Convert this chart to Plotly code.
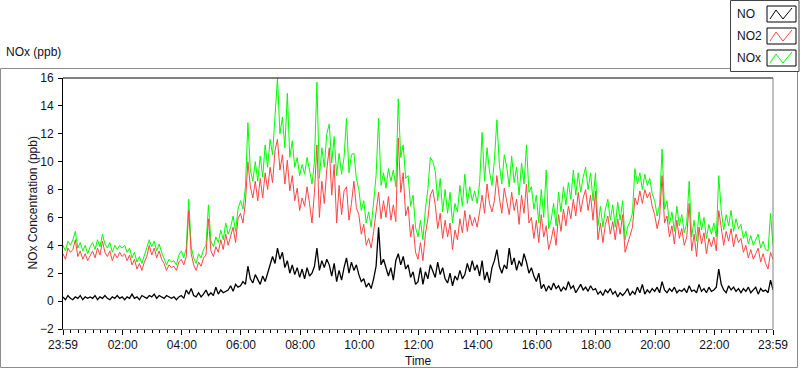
import pandas as pd
import plotly.graph_objects as go

# ---------------- data (5-minute samples, 23:59 -> 23:59) ----------------
start_time = "2024-01-01 23:59"
n_points = 289
sample_minutes = 5

no2_ppb = [
    3.4, 3.0, 3.8, 3.5, 3.7, 4.4, 3.2, 3.6, 3.0, 3.4, 2.9, 3.3,
    3.6, 3.1, 3.8, 3.3, 4.3, 3.5, 3.2, 3.6, 2.9, 3.4, 3.1, 3.5,
    3.2, 3.4, 2.9, 3.3, 2.6, 3.0, 2.3, 2.7, 2.2, 2.8, 3.2, 4.0,
    3.3, 3.8, 3.1, 3.6, 3.0, 2.7, 2.2, 2.6, 2.4, 2.5, 2.2, 2.8,
    3.0, 2.6, 3.2, 6.5, 3.4, 2.6, 2.2, 2.8, 2.5, 3.1, 3.3, 5.9,
    3.6, 3.2, 3.9, 3.5, 4.4, 3.7, 4.8, 4.0, 4.6, 5.3, 4.2, 5.9,
    6.3, 5.6, 7.1, 10.0, 8.2, 7.4, 8.6, 7.2, 8.8, 7.4, 9.2, 8.0,
    9.6, 8.5, 10.8, 11.6, 9.4, 10.5, 8.4, 10.1, 7.9, 9.0, 7.2, 8.1,
    6.5, 7.4, 6.8, 8.2, 7.0, 5.6, 7.8, 11.2, 6.0, 8.6, 7.0, 9.4,
    11.0, 7.6, 9.8, 5.6, 8.3, 6.2, 7.9, 8.2, 5.8, 7.0, 8.6, 6.7,
    6.2, 4.8, 5.5, 4.0, 4.5, 3.8, 5.0, 6.4, 7.8, 5.9, 7.2, 6.0,
    7.5, 5.8, 6.9, 5.7, 11.7, 7.8, 9.2, 6.1, 6.8, 4.6, 5.5, 3.5,
    3.0, 4.2, 2.9, 4.8, 5.9, 7.6, 8.0, 6.9, 5.2, 6.3, 4.5, 5.8,
    4.6, 5.6, 3.7, 5.1, 4.4, 5.9, 4.9, 6.5, 5.0, 6.2, 5.4, 6.0,
    5.3, 6.4, 7.6, 6.3, 8.4, 7.0, 6.4, 7.2, 9.0, 7.4, 6.3, 8.1,
    7.2, 6.2, 7.8, 6.5, 7.3, 5.5, 7.6, 6.3, 8.4, 5.6, 6.0, 4.5,
    5.8, 4.2, 6.2, 4.6, 5.4, 3.7, 4.4, 5.3, 4.0, 6.2, 5.0, 6.6,
    5.4, 6.8, 5.9, 7.3, 6.1, 7.8, 6.4, 7.4, 8.0, 6.5, 7.6, 5.8,
    7.9, 4.4, 5.6, 4.2, 5.5, 6.1, 4.8, 5.7, 4.4, 5.9, 4.8, 6.2,
    3.5, 4.2, 4.7, 5.3, 7.4, 6.9, 7.9, 7.0, 8.0, 7.4, 7.8, 6.8,
    6.2, 5.2, 6.0, 9.0, 5.6, 6.1, 4.6, 5.4, 4.1, 5.8, 4.5, 5.2,
    4.0, 4.6, 7.0, 3.6, 4.8, 3.2, 5.3, 4.1, 4.9, 3.4, 4.5, 3.9,
    4.6, 3.6, 6.5, 5.3, 4.0, 5.0, 4.3, 5.2, 3.9, 4.8, 4.2, 4.5,
    3.5, 4.0, 3.1, 3.7, 3.0, 3.4, 3.8, 2.8, 3.4, 2.7, 2.3, 3.5,
    3.0,
]

nox_ppb = [
    4.0, 3.6, 4.3, 4.0, 4.4, 5.0, 3.8, 4.2, 3.6, 4.0, 3.4, 3.9,
    4.2, 3.7, 4.4, 3.9, 4.8, 4.1, 3.8, 4.2, 3.5, 4.0, 3.7, 4.0,
    3.8, 4.0, 3.5, 3.8, 3.1, 3.5, 2.8, 3.2, 2.7, 3.3, 3.8, 4.4,
    3.9, 4.3, 3.6, 4.1, 3.5, 3.1, 2.6, 3.0, 2.8, 2.9, 2.6, 3.3,
    3.6, 3.1, 3.8, 7.3, 3.9, 3.1, 2.7, 3.4, 3.1, 3.7, 4.0, 6.9,
    4.3, 3.9, 4.6, 4.2, 5.1, 4.4, 5.6, 4.8, 5.3, 6.1, 5.0, 6.6,
    7.2, 6.6, 8.2, 12.8, 9.4, 8.6, 10.0, 8.6, 10.4, 8.9, 11.2, 9.6,
    11.6, 10.5, 13.5, 16.0, 12.0, 13.2, 11.0, 14.9, 10.3, 11.5, 9.6, 10.3,
    9.0, 9.8, 9.1, 10.3, 9.4, 8.4, 10.0, 15.7, 8.8, 11.0, 9.6, 12.0,
    12.7, 9.9, 11.8, 9.0, 10.6, 9.1, 10.3, 13.1, 9.2, 10.5, 10.6, 8.8,
    8.0, 6.5, 7.2, 5.6, 6.4, 5.3, 7.1, 9.0, 13.1, 8.3, 9.2, 8.1,
    9.5, 8.6, 9.4, 8.2, 14.5, 10.3, 11.2, 8.8, 9.0, 6.8, 7.6, 5.3,
    4.6, 5.8, 4.4, 6.6, 8.0, 10.3, 10.0, 9.3, 7.2, 8.8, 6.4, 8.0,
    6.3, 7.8, 5.6, 7.0, 6.4, 8.3, 6.8, 9.1, 7.0, 8.2, 7.2, 7.9,
    7.0, 8.5, 12.1, 8.6, 11.0, 9.3, 8.3, 10.1, 13.0, 9.8, 8.4, 10.5,
    9.6, 8.2, 10.4, 8.5, 9.6, 7.6, 9.9, 8.4, 11.2, 7.8, 8.2, 6.6,
    7.6, 5.6, 8.0, 6.0, 9.4, 5.2, 5.8, 7.0, 5.4, 7.8, 6.4, 8.2,
    6.9, 8.5, 7.3, 9.4, 7.6, 9.2, 7.8, 8.9, 9.6, 8.0, 9.2, 7.2,
    9.2, 5.4, 6.8, 5.3, 6.6, 7.3, 5.8, 6.9, 5.3, 7.1, 5.8, 7.2,
    4.4, 5.3, 5.7, 6.3, 9.5, 8.4, 9.2, 8.0, 9.1, 8.3, 8.8, 7.7,
    7.2, 6.1, 6.9, 10.9, 6.6, 7.2, 5.5, 6.4, 5.0, 6.8, 5.4, 6.2,
    4.9, 5.6, 8.6, 4.6, 5.8, 4.3, 6.4, 5.1, 6.0, 4.5, 5.5, 4.8,
    5.6, 4.6, 9.0, 6.5, 5.1, 6.2, 5.4, 6.5, 5.0, 5.9, 5.2, 5.5,
    4.5, 5.0, 4.1, 4.7, 4.0, 4.4, 4.8, 3.8, 4.3, 3.7, 3.6, 6.3,
    4.0,
]

no_ppb = [
    0.3, 0.1, 0.4, 0.2, 0.1, 0.3, 0.2, 0.4, 0.1, 0.3, 0.2, 0.3,
    0.2, 0.4, 0.1, 0.3, 0.2, 0.4, 0.2, 0.1, 0.3, 0.2, 0.4, 0.2,
    0.3, 0.1, 0.3, 0.2, 0.5, 0.2, 0.3, 0.1, 0.4, 0.3, 0.2, 0.4,
    0.3, 0.5, 0.2, 0.4, 0.3, 0.2, 0.4, 0.3, 0.2, 0.3, 0.1, 0.3,
    0.4, 0.2, 0.8, 0.5, 0.9, 0.4, 0.3, 0.6, 0.3, 0.5, 0.8, 0.4,
    0.6, 0.4, 1.0, 0.5, 0.8, 0.6, 0.7, 0.8, 1.1, 0.7, 1.2, 1.0,
    1.1, 1.4, 1.2, 2.5, 1.6, 1.3, 1.9, 1.5, 1.2, 1.8, 1.4, 2.0,
    2.6, 3.2, 2.7, 3.8, 3.0, 3.5, 2.4, 2.9, 2.0, 2.6, 1.9, 2.4,
    1.7, 2.3, 1.6, 2.4, 1.8, 2.0, 2.5, 3.8, 2.2, 2.9, 2.4, 3.0,
    2.6, 1.8, 2.7, 1.4, 2.2, 1.5, 2.4, 3.1, 2.0, 2.8, 2.2, 2.6,
    1.9, 1.4, 1.6, 1.0, 1.3, 0.9, 1.6, 2.5, 5.3, 2.6, 3.0, 2.3,
    1.8, 2.4, 1.5, 2.9, 3.4, 2.6, 3.2, 2.3, 2.6, 1.7, 2.1, 1.2,
    1.4, 2.4, 1.2, 2.1, 1.6, 2.6, 2.2, 1.7, 2.8, 1.9, 2.4, 1.6,
    1.3, 2.0, 1.1, 1.8, 1.5, 2.2, 1.6, 1.9, 2.7, 2.1, 2.9, 2.2,
    2.6, 1.8, 2.9, 1.5, 2.1, 1.3, 2.4, 2.9, 3.7, 2.5, 2.0, 2.6,
    2.3, 3.8, 2.6, 3.1, 2.2, 2.9, 2.5, 3.4, 2.8, 2.0, 2.4, 1.8,
    1.4, 2.0, 0.9, 1.2, 0.7, 1.1, 0.8, 1.3, 0.9, 1.1, 0.7, 1.0,
    0.8, 1.4, 0.9, 1.1, 0.6, 0.9, 1.2, 0.8, 1.0, 0.7, 1.1, 0.8,
    0.9, 0.5, 0.7, 0.4, 0.8, 0.6, 0.9, 0.5, 0.7, 0.3, 0.6, 0.4,
    0.6, 0.9, 0.4, 0.7, 0.5, 1.0, 0.6, 1.2, 0.5, 0.8, 0.6, 0.9,
    0.7, 1.0, 0.6, 1.4, 0.8, 0.6, 0.9, 0.7, 1.0, 0.6, 0.8, 0.7,
    0.9, 0.6, 1.1, 0.7, 0.8, 0.6, 1.2, 0.7, 0.9, 0.6, 1.0, 0.7,
    0.8, 1.0, 2.3, 1.2, 0.8, 0.6, 1.1, 0.8, 1.0, 0.7, 0.9, 0.6,
    0.9, 0.7, 1.0, 0.6, 0.8, 1.0, 0.5, 0.9, 0.7, 0.8, 0.6, 1.5,
    0.8,
]

tick_values = [
    "2024-01-01 23:59", "2024-01-02 02:00", "2024-01-02 04:00", "2024-01-02 06:00",
    "2024-01-02 08:00", "2024-01-02 10:00", "2024-01-02 12:00", "2024-01-02 14:00",
    "2024-01-02 16:00", "2024-01-02 18:00", "2024-01-02 20:00", "2024-01-02 22:00",
    "2024-01-02 23:59",
]
tick_labels = ["23:59", "02:00", "04:00", "06:00", "08:00", "10:00", "12:00",
               "14:00", "16:00", "18:00", "20:00", "22:00", "23:59"]
series_names = ["NO", "NO2", "NOx"]
series_colors = ["#000000", "#ff4444", "#00ff00"]

times = pd.date_range(start_time, periods=n_points, freq=f"{sample_minutes}min")

# ---------------- figure ----------------
W, H = 800, 369
L, R, T, B = 63, 27, 78, 40
PW, PH = W - L - R, H - T - B


def px(x):
    return (x - L) / PW


def py(y):
    return (H - B - y) / PH


FONT = "Liberation Sans, Arial, sans-serif"
TXT = "#111122"

fig = go.Figure()
fig.add_trace(go.Scatter(x=times, y=nox_ppb, name=series_names[2], mode="lines",
                         line=dict(color=series_colors[2], width=1)))
fig.add_trace(go.Scatter(x=times, y=no2_ppb, name=series_names[1], mode="lines",
                         line=dict(color=series_colors[1], width=1)))
fig.add_trace(go.Scatter(x=times, y=no_ppb, name=series_names[0], mode="lines",
                         line=dict(color=series_colors[0], width=1.3)))

shapes = []
# outer panel frame
shapes.append(dict(type="rect", xref="paper", yref="paper", x0=px(0.5), x1=px(797.5),
                   y0=py(367.5), y1=py(68.5), line=dict(color="#8c8c8c", width=1), layer="below"))
# plot frame: top black, right grey
shapes.append(dict(type="line", xref="paper", yref="paper", x0=0, x1=1, y0=1, y1=1,
                   line=dict(color="#000000", width=1)))
shapes.append(dict(type="line", xref="paper", yref="paper", x0=1, x1=1, y0=0, y1=1,
                   line=dict(color="#808080", width=1)))
# legend box
shapes.append(dict(type="rect", xref="paper", yref="paper", x0=px(730.5), x1=px(799),
                   y0=py(71.5), y1=py(0.5), fillcolor="#ffffff",
                   line=dict(color="#444444", width=1)))

annotations = []
rows = [14, 36, 58]
for name, col, r in zip(series_names, series_colors, rows):
    annotations.append(dict(text=name, xref="paper", yref="paper", x=px(735), y=py(r),
                            xanchor="left", yanchor="middle", showarrow=False,
                            font=dict(family=FONT, size=12, color=TXT)))
    shapes.append(dict(type="rect", xref="paper", yref="paper", x0=px(767), x1=px(796),
                       y0=py(r + 8), y1=py(r - 8), fillcolor="#ffffff",
                       line=dict(color="#000000", width=1)))
    pts = [(770, r + 5), (776, r - 4), (783, r + 5), (792, r - 6)]
    path = "M " + " L ".join(f"{px(a)},{py(b)}" for a, b in pts)
    shapes.append(dict(type="path", xref="paper", yref="paper", path=path,
                       line=dict(color=col, width=1)))

annotations.append(dict(text="NOx (ppb)", xref="paper", yref="paper", x=px(4), y=py(52),
                        xanchor="left", yanchor="middle", showarrow=False,
                        font=dict(family=FONT, size=12, color=TXT)))
annotations.append(dict(text="Time", xref="paper", yref="paper", x=0.5, y=py(361),
                        xanchor="center", yanchor="middle", showarrow=False,
                        font=dict(family=FONT, size=12, color=TXT)))
annotations.append(dict(text="NOx Concentration (ppb)", xref="paper", yref="paper",
                        x=px(32), y=0.5, textangle=-90,
                        xanchor="center", yanchor="middle", showarrow=False,
                        font=dict(family=FONT, size=12, color=TXT)))

fig.update_layout(
    width=W, height=H,
    margin=dict(l=L, r=R, t=T, b=B, autoexpand=False),
    paper_bgcolor="#ffffff", plot_bgcolor="#ffffff",
    showlegend=False,
    font=dict(family=FONT, size=12, color=TXT),
    shapes=shapes, annotations=annotations,
    xaxis=dict(
        automargin=False,
        range=[tick_values[0], tick_values[-1]],
        tickmode="array", tickvals=tick_values, ticktext=tick_labels,
        ticks="outside", ticklen=5, tickcolor="#000000", tickwidth=1,
        ticklabelstandoff=0,
        minor=dict(ticks="outside", ticklen=3, tickcolor="#000000",
                   dtick=15 * 60 * 1000, tick0="2024-01-02 00:00", showgrid=False),
        showgrid=False, zeroline=False,
        showline=True, linecolor="#808080", linewidth=1,
        tickfont=dict(family=FONT, size=12, color=TXT),
    ),
    yaxis=dict(
        automargin=False,
        range=[-2, 16], dtick=2, tick0=0,
        ticks="outside", ticklen=4, tickcolor="#000000",
        ticklabelstandoff=2,
        showgrid=False, zeroline=False,
        showline=True, linecolor="#000000", linewidth=1,
        tickfont=dict(family=FONT, size=12, color=TXT),
    ),
)

fig.write_html("out.html", config={"displayModeBar": False},
               post_script="document.body.style.margin='0';document.body.style.overflow='hidden';")
